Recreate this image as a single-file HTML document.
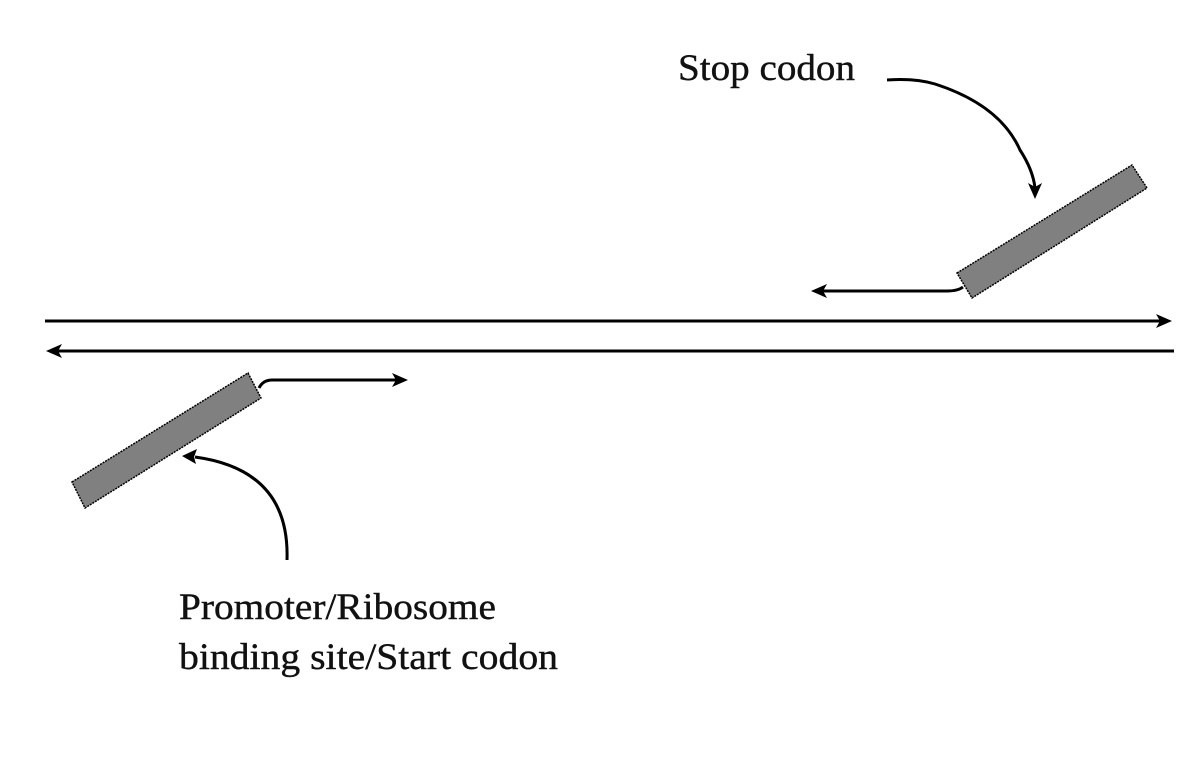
<!DOCTYPE html>
<html><head><meta charset="utf-8"><style>
html,body{margin:0;padding:0;background:#fff;}
svg{display:block;}
text{font-family:"Liberation Serif",serif;font-size:37px;fill:#111;stroke:#111;stroke-width:0.4;}
</style></head><body>
<svg width="1184" height="764" viewBox="0 0 1184 764" xmlns="http://www.w3.org/2000/svg">
<rect width="1184" height="764" fill="#fff"/>
<line x1="45" y1="321" x2="1160" y2="321" stroke="#000" stroke-width="3"/>
<polygon points="1172,321 1156,314 1160,321 1156,328" fill="#000"/>
<line x1="58" y1="351" x2="1174" y2="351" stroke="#000" stroke-width="3"/>
<polygon points="46,351 62,344 58,351 62,358" fill="#000"/>
<polygon points="957,273 1132,165 1147,188 972,298" fill="#808080" stroke="#000" stroke-width="1.5" stroke-dasharray="2,1"/>
<path d="M963,287 Q958,291 947,291 L822,291" fill="none" stroke="#000" stroke-width="3"/>
<polygon points="811,291 827,284 823,291 827,298" fill="#000"/>
<polygon points="72,482 248,373 261,398 85,508" fill="#808080" stroke="#000" stroke-width="1.5" stroke-dasharray="2,1"/>
<path d="M259,388 Q263,380 272,380 L398,380" fill="none" stroke="#000" stroke-width="3"/>
<polygon points="408,380 392,373 396,380 392,387" fill="#000"/>
<path d="M887,80 Q915,78 935,84 Q1000,105 1020,150 Q1033,170 1035,188" fill="none" stroke="#000" stroke-width="3"/>
<polygon points="1035,199 1028,183 1035,187 1042,183" fill="#000"/>
<path d="M287,560 Q290,470 195,457" fill="none" stroke="#000" stroke-width="3"/>
<polygon points="182,456 197,449 194,457 196,464" fill="#000"/>
<text x="678" y="80" textLength="177" lengthAdjust="spacingAndGlyphs">Stop codon</text>
<text x="179" y="619" textLength="317" lengthAdjust="spacingAndGlyphs">Promoter/Ribosome</text>
<text x="179" y="669" textLength="379" lengthAdjust="spacingAndGlyphs">binding site/Start codon</text>
</svg>
</body></html>
